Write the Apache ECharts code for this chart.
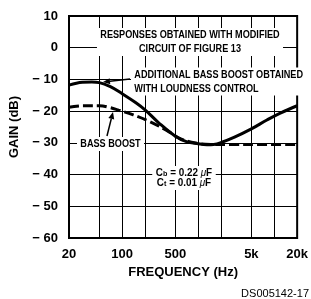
<!DOCTYPE html>
<html lang="en" style="height: 100%">
<head>
  <meta charset="utf-8">
</head>
<body style="height: 100%; margin: 0; background: #fff">
  <div id="container" style="width: 311px; height: 299px"></div>

  <script type="text/javascript" src="https://fastly.jsdelivr.net/npm/echarts@6/dist/echarts.min.js"></script>

  <script type="text/javascript">
    // frequency response (Hz, dB)
    const loudFreqs = [20, 25, 30, 40, 50, 70, 100, 150, 200, 300, 500, 700, 1000, 1300, 1600, 2000, 3000, 5000, 8000, 12000, 20000];
    const loudGain = [-11.8, -11.2, -10.9, -10.8, -11.0, -12.3, -14.5, -17.3, -19.6, -23.6, -27.9, -29.6, -30.3, -30.6, -30.5, -29.9, -28.2, -25.6, -22.8, -20.6, -18.3];

    const bassFreqs = [20, 30, 50, 70, 90, 140, 230, 380, 600, 1000, 1500, 3000, 6000, 10000, 20000];
    const bassGain = [-18.8, -18.3, -18.3, -18.9, -19.7, -21.2, -23.3, -26.0, -28.8, -30.2, -30.5, -30.5, -30.5, -30.5, -30.5];

    const gridFreqs = [20, 50, 100, 200, 500, 1000, 2000, 5000, 10000, 20000];
    const labelFreqs = [20, 100, 500, 5000, 20000];
    const labelTexts = ['20', '100', '500', '5k', '20k'];

    const FONT = '"Liberation Sans", Arial, sans-serif';
    const NARROW = 0.83; // horizontal squeeze for the condensed look of the notes

    var dom = document.getElementById('container');
    var myChart = echarts.init(dom, null, { renderer: 'canvas' });

    function pairs(freqs, gains) {
      return freqs.map((f, i) => [Math.log10(f), gains[i]]);
    }

    // arrow drawn from tail (x1,y1) to tip (x2,y2)
    function arrow(x1, y1, x2, y2) {
      const a = Math.atan2(y2 - y1, x2 - x1), L = 7, W = 3;
      const bx = x2 - L * Math.cos(a), by = y2 - L * Math.sin(a);
      return [
        { type: 'line', z: 20, shape: { x1: x1, y1: y1, x2: bx, y2: by }, style: { stroke: '#000', lineWidth: 1.5 } },
        { type: 'polygon', z: 20, shape: { points: [[x2, y2], [bx + W * Math.sin(a), by - W * Math.cos(a)], [bx - W * Math.sin(a), by + W * Math.cos(a)]] }, style: { fill: '#000' } }
      ];
    }

    function note(x, y, text, align, pad) {
      return {
        type: 'text', z: 10, x: x, y: y, scaleX: NARROW,
        style: {
          text: text, fill: '#000', font: 'bold 11px ' + FONT,
          align: align, verticalAlign: 'middle', lineHeight: 14,
          backgroundColor: '#fff', padding: pad
        }
      };
    }

    const axisText = { color: '#000', fontWeight: 'bold', fontSize: 13, fontFamily: FONT };

    var option = {
      animation: false,
      grid: { left: 67, right: 11, top: 16, bottom: 61, show: true, borderColor: '#000', borderWidth: 2 },
      xAxis: {
        type: 'value',
        min: Math.log10(20),
        max: Math.log10(20000),
        name: 'FREQUENCY (Hz)',
        nameLocation: 'middle',
        nameGap: 23,
        nameTextStyle: axisText,
        axisLine: { show: false },
        axisTick: { show: false, customValues: gridFreqs.map(f => Math.log10(f)) },
        axisLabel: Object.assign({
          customValues: labelFreqs.map(f => Math.log10(f)),
          margin: 10,
          formatter: function (v) {
            const i = labelFreqs.findIndex(f => Math.abs(Math.log10(f) - v) < 1e-6);
            return i >= 0 ? labelTexts[i] : '';
          }
        }, axisText),
        splitLine: { show: true, lineStyle: { color: '#000', width: 1 } }
      },
      yAxis: {
        type: 'value',
        min: -60,
        max: 10,
        interval: 10,
        name: 'GAIN (dB)',
        nameLocation: 'middle',
        nameGap: 48,
        nameTextStyle: axisText,
        axisLine: { show: false },
        axisTick: { show: false },
        axisLabel: Object.assign({
          margin: 11,
          formatter: v => v < 0 ? '\u2212 ' + Math.abs(v) : String(v)
        }, axisText),
        splitLine: { show: true, lineStyle: { color: '#000', width: 1 } }
      },
      series: [
        {
          name: 'Additional bass boost with loudness control',
          type: 'line',
          data: pairs(loudFreqs, loudGain),
          smooth: 0.4,
          showSymbol: false,
          lineStyle: { color: '#000', width: 3 },
          z: 5
        },
        {
          name: 'Bass boost',
          type: 'line',
          data: pairs(bassFreqs, bassGain),
          smooth: 0.4,
          showSymbol: false,
          lineStyle: { color: '#000', width: 3, type: [10, 4] },
          z: 5
        }
      ],
      graphic: [
        note(190, 42, 'RESPONSES OBTAINED WITH MODIFIED\nCIRCUIT OF FIGURE 13', 'center', [0, 4]),
        note(131, 81.5, 'ADDITIONAL BASS BOOST OBTAINED\nWITH LOUDNESS CONTROL', 'left', [0, 2, 0, 4]),
        note(77, 144, 'BASS BOOST', 'left', [0, 4]),
        {
          type: 'text', z: 10, x: 184, y: 178, scaleX: 0.9,
          style: {
            text: '{c|C}{s|b}{c| = 0.22 }{u|\u03bc}{c|F}\n{c|C}{s|t}{c| = 0.01 }{u|\u03bc}{c|F}',
            align: 'center', verticalAlign: 'middle',
            backgroundColor: '#fff', padding: [2, 4],
            rich: {
              c: { font: 'bold 11px ' + FONT, fill: '#000', lineHeight: 10 },
              s: { font: 'bold 8px ' + FONT, fill: '#000', lineHeight: 10, verticalAlign: 'bottom' },
              u: { font: 'italic 11px ' + FONT, fill: '#000', lineHeight: 10 }
            }
          }
        },
        {
          type: 'text', z: 10, right: 2, bottom: 0,
          style: { text: 'DS005142-17', fill: '#000', font: '11px ' + FONT }
        }
      ].concat(arrow(130, 79, 103, 82), arrow(107, 136, 113, 112))
    };

    myChart.setOption(option);
    window.addEventListener('resize', myChart.resize);
  </script>
</body>
</html>
